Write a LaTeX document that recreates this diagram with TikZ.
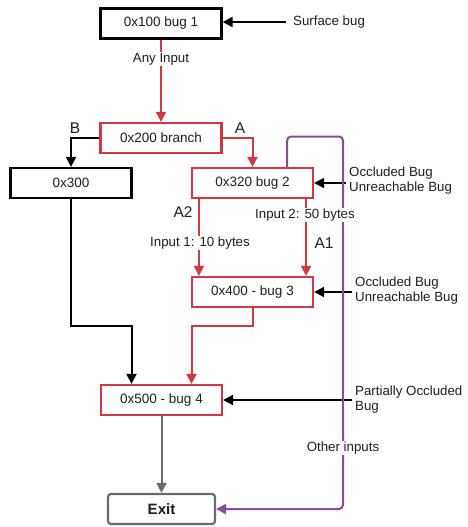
\documentclass[tikz,border=0pt]{standalone}
\usepackage{fontspec}
\setmainfont{Liberation Sans}
\usetikzlibrary{arrows.meta,calc}
\definecolor{cred}{HTML}{D0393F}
\definecolor{cpurp}{HTML}{8E4A9A}
\definecolor{cgray}{HTML}{6B6B6B}
\definecolor{ctext}{HTML}{1E1E1E}
\tikzset{
  box/.style={draw=#1, line width=2.2pt, minimum width=121pt, minimum height=30pt, inner sep=0pt, font=\fontsize{13.5}{15}\selectfont, text=ctext, fill=white},
  lbl/.style={font=\fontsize{13.3}{15}\selectfont, text=ctext, inner sep=1pt},
  big/.style={font=\fontsize{15.5}{17}\selectfont, text=ctext, inner sep=1pt},
  conn/.style={draw=#1, line width=2pt, -{Triangle[length=10pt,width=10pt]}},
}
\begin{document}
\begin{tikzpicture}[x=1pt,y=-1pt]
\useasboundingbox[fill=white] (0,0) rectangle (467,527);
% nodes
\node[box=black] (b1) at (161,23.5) {0x100 bug 1};
\node[box=cred] (b2) at (161,138) {0x200 branch};
\node[box=black] (b3) at (71,183) {0x300};
\node[box=cred] (b4) at (252.5,183) {0x320 bug 2};
\node[box=cred] (b5) at (252.5,292) {0x400 - bug 3};
\node[box=cred] (b6) at (161.5,400) {0x500 - bug 4};
\node[box=cgray, minimum width=107pt, rounded corners=3pt, font=\fontsize{15}{17}\selectfont\bfseries] (ex) at (161.5,509) {Exit};
% side labels
\node[lbl, anchor=west] (sb) at (292,22) {Surface bug};
\node[lbl, anchor=west, align=left] (o1) at (348,181) {Occluded Bug\\Unreachable Bug};
\node[lbl, anchor=west, align=left] (o2) at (354,291) {Occluded Bug\\Unreachable Bug};
\node[lbl, anchor=west, align=left] (po) at (354,400) {Partially Occluded\\Bug};
\coordinate (s1) at (286,22);
\coordinate (s2) at (346,183);
\coordinate (s3) at (352,292);
\coordinate (s4) at (352,400);
% connectors
\draw[conn=black] (s1) -- (b1.east |- s1);
\draw[conn=black] (s2) -- (b4.east |- s2);
\draw[conn=black] (s3) -- (b5.east |- s3);
\draw[conn=black] (s4) -- (b6.east |- s4);
\draw[conn=cred] (b1.south) -- (b2.north);
\draw[conn=black] (b2.west) -| (b3.north);
\draw[conn=cred] (b2.east) -| (b4.north);
\draw[conn=cred] ([xshift=8pt]b4.south west) -- ([xshift=8pt]b5.north west);
\draw[conn=cred] ([xshift=-8pt]b4.south east) -- ([xshift=-8pt]b5.north east);
\draw[conn=cred] (b5.south) -- ++(0,18) -| ([xshift=30pt]b6.north);
\draw[conn=black] (b3.south) -- ++(0,127) -| ([xshift=-30pt]b6.north);
\draw[conn=cgray] (b6.south) -- (ex.north);
\coordinate (pc) at (343,136.5);
\draw[conn=cpurp, rounded corners=4pt] ([xshift=-27pt]b4.north east) |- (pc) |- (ex.east);
% edge labels
\node[lbl, fill=white] (l1) at (161,59) {Any Input};
\node[big] (lb) at (75,128) {B};
\node[big] (la) at (240,128) {A};
\node[big] (la2) at (183,212) {A2};
\node[big] (la1) at (324,243) {A1};
\node[lbl, fill=white] (i1) at (200,243) {Input 1: 10 bytes};
\node[lbl, fill=white] (i2) at (305,215) {Input 2: 50 bytes};
\node[lbl, fill=white] (oi) at (343,448) {Other inputs};
\end{tikzpicture}
\end{document}
